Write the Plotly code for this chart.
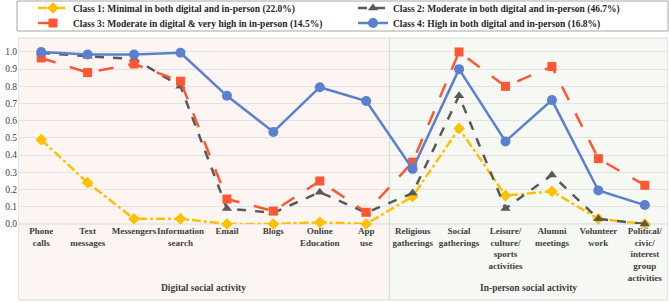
import plotly.graph_objects as go

categories = ["Phone<br>calls", "Text<br>messages", "Messengers", "Information<br>search", "Email", "Blogs",
              "Online<br>Education", "App<br>use", "Religious<br>gatherings", "Social<br>gatherings",
              "Leisure/<br>culture/<br>sports<br>activities", "Alumni<br>meetings", "Volunteer<br>work",
              "Political/<br>civic/<br>interest<br>group<br>activities"]

class1 = [0.49, 0.24, 0.03, 0.03, 0.0, 0.0, 0.01, 0.0, 0.16, 0.555, 0.165, 0.19, 0.03, 0.0]
class2 = [0.995, 0.975, 0.96, 0.80, 0.09, 0.065, 0.185, 0.065, 0.18, 0.745, 0.09, 0.285, 0.03, 0.0]
class3 = [0.965, 0.88, 0.93, 0.83, 0.145, 0.075, 0.25, 0.068, 0.36, 1.0, 0.80, 0.915, 0.38, 0.225]
class4 = [1.0, 0.985, 0.985, 0.995, 0.745, 0.535, 0.795, 0.715, 0.32, 0.90, 0.48, 0.72, 0.195, 0.11]

names = ["Class 1: Minimal in both digital and in-person (22.0%)",
         "Class 2: Moderate in both digital and in-person (46.7%)",
         "Class 3: Moderate in digital & very high in in-person (14.5%)",
         "Class 4: High in both digital and in-person (16.8%)"]
groups = ["Digital social activity", "In-person social activity"]

x = list(range(len(categories)))
styles = [
    dict(color="#FFC000", dash="dashdot", symbol="diamond", size=9, legend="legend"),
    dict(color="#595959", dash="dash", symbol="triangle-up", size=9, legend="legend"),
    dict(color="#FF5733", dash="longdash", symbol="square", size=9, legend="legend2"),
    dict(color="#5B80CF", dash="solid", symbol="circle", size=10, legend="legend2"),
]

fig = go.Figure()
for name, vals, st in zip(names, [class1, class2, class3, class4], styles):
    fig.add_trace(go.Scatter(
        x=x, y=vals, name=name, mode="lines+markers",
        line=dict(color=st["color"], dash=st["dash"], width=2.5),
        marker=dict(color=st["color"], symbol=st["symbol"], size=st["size"]),
        cliponaxis=False, legend=st["legend"],
    ))

serif = "Liberation Serif, Times New Roman, serif"
H = 303
legfont = dict(family=serif, size=9.5, color="#262626", weight="bold")
common_leg = dict(orientation="h", xref="container", yref="container", x=33/669,
                  xanchor="left", yanchor="middle", entrywidth=275, entrywidthmode="pixels",
                  bgcolor="rgba(0,0,0,0)", borderwidth=0, font=legfont, itemwidth=30)

ph = 186.0  # plot height in px
def py(px):
    return (224 - px) / ph

fig.update_layout(
    width=669, height=H,
    margin=dict(l=18, r=1, t=38, b=79),
    paper_bgcolor="white", plot_bgcolor="rgba(0,0,0,0)",
    font=dict(family=serif, size=10, color="#404040"),
    showlegend=True,
    legend=dict(common_leg, y=1 - 8.0 / H),
    legend2=dict(common_leg, y=1 - 23.0 / H),
    xaxis=dict(range=[-0.5, 13.5], tickmode="array", tickvals=x, ticktext=categories,
               tickangle=0,
               showgrid=False, zeroline=False, showline=False, ticks="",
               tickfont=dict(family=serif, size=9, color="#404040", weight="bold")),
    yaxis=dict(range=[0, 1.081], tickmode="array", tickvals=[i / 10 for i in range(11)],
               ticktext=["%.1f" % (i / 10) for i in range(11)],
               showgrid=True, gridcolor="#E3E3E3", gridwidth=1, zeroline=False,
               ticks="", tickfont=dict(family=serif, size=9.5, color="#404040")),
    shapes=[
        dict(type="rect", xref="paper", yref="paper", x0=-1 / 650, x1=1.0, y0=py(31), y1=py(1),
             fillcolor="rgba(0,0,0,0)", line=dict(color="#A6A6A6", width=1), layer="below"),
        dict(type="rect", xref="x", yref="paper", x0=-0.5, x1=7.5, y0=py(300), y1=1.0,
             fillcolor="#FCF5F1", line=dict(color="#D9D9D9", width=1), layer="below"),
        dict(type="rect", xref="x", yref="paper", x0=7.5, x1=13.5, y0=py(300), y1=1.0,
             fillcolor="#F6F8F3", line=dict(color="#D9D9D9", width=1), layer="below"),
        dict(type="line", xref="x", yref="paper", x0=-0.5, x1=13.5, y0=0, y1=0,
             line=dict(color="#D9D9D9", width=1), layer="below"),
    ],
    annotations=[
        dict(text=groups[0], xref="x", yref="paper", x=3.5, y=py(288), yanchor="middle",
             showarrow=False, font=dict(family=serif, size=9.5, color="#404040", weight="bold")),
        dict(text=groups[1], xref="x", yref="paper", x=10.5, y=py(288), yanchor="middle",
             showarrow=False, font=dict(family=serif, size=9.5, color="#404040", weight="bold")),
    ],
)

fig.write_html("out.html")
